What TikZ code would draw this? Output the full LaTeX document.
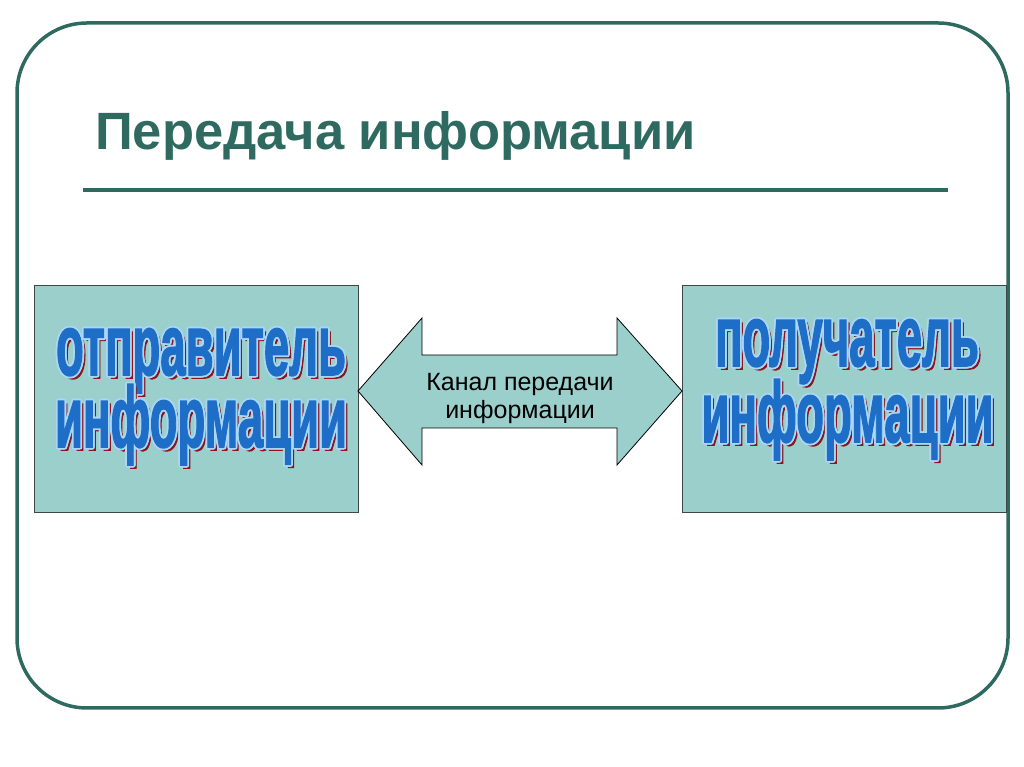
\documentclass[tikz,border=0pt]{standalone}
\usepackage{fontspec}
\setmainfont{Liberation Sans}
\newfontfamily\heavyfont[FakeBold=2]{Liberation Sans Bold}
\usepackage{graphicx}
\usetikzlibrary{calc}
\definecolor{frameteal}{RGB}{46,106,96}
\definecolor{boxfill}{RGB}{155,207,203}
\definecolor{boxline}{RGB}{60,72,72}
\definecolor{wordblue}{RGB}{30,110,200}
\definecolor{wordrim}{RGB}{170,215,245}
\definecolor{wordshadow}{RGB}{140,20,30}
\begin{document}
\begin{tikzpicture}[x=1pt,y=1pt,
    box/.style={draw=boxline,line width=1pt,fill=boxfill,minimum width=324pt,minimum height=227pt,inner sep=0pt},
    word/.style={anchor=base,inner sep=0pt,font=\fontsize{45.5}{50}\heavyfont}]
  \useasboundingbox (0,0) rectangle (1024,767);
  \draw[frameteal,line width=3.5pt,rounded corners=70pt] (17,59) rectangle (1008,744);
  \node[anchor=base west,inner sep=0pt,text=frameteal,font=\fontsize{52.5}{60}\selectfont\bfseries] (title) at (95,617) {Передача информации};
  \coordinate (rulestart) at (83,577);
  \coordinate (ruleend) at (948,577);
  \draw[frameteal,line width=4pt] (rulestart) -- (ruleend);
  \node[box] (sender) at (196,367.5) {};
  \node[box] (receiver) at (844,367.5) {};
  \draw[fill=boxfill,line width=0.8pt] (358,376) -- (422,449) -- (422,412) -- (617,412) -- (617,449) -- (682,376)
    -- (617,302) -- (617,339) -- (422,339) -- (422,302) -- cycle;
  \node[align=center,font=\fontsize{25}{28}\selectfont] (channel) at (520,368) {Канал передачи\\информации};
  \foreach \x/\y/\w [count=\i] in {201/392/отправитель,201/320/информации,847/401/получатель,847.5/325/информации}
  {
    \node[word,text=wordshadow] (shade\i) at (\x+3,\y-3) {\scalebox{1}[1.9]{\w}};
    \foreach \a in {0,30,...,330}
      \node[word,text=wordrim] (rim\i) at ($(\x,\y)+(\a:1.8)$) {\scalebox{1}[1.9]{\w}};
    \node[word,text=wordblue] (word\i) at (\x,\y) {\scalebox{1}[1.9]{\w}};
  }
\end{tikzpicture}
\end{document}
